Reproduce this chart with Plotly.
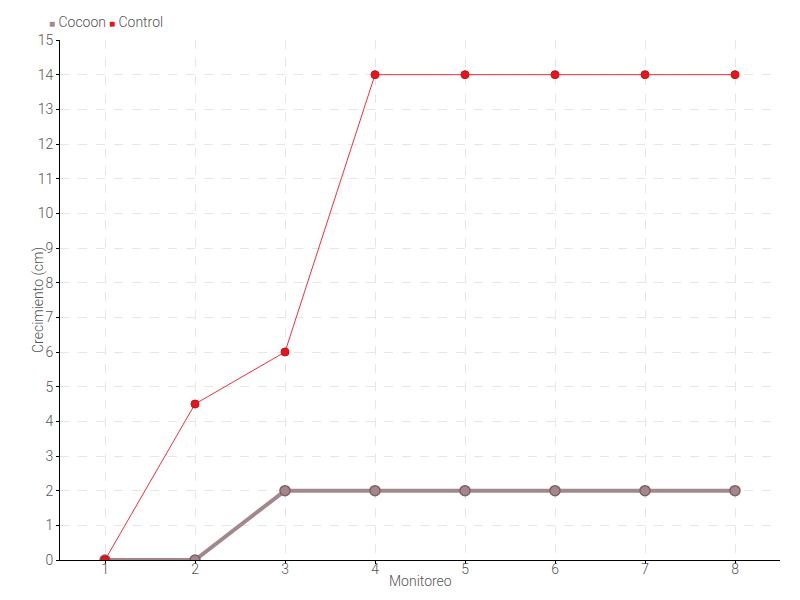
import plotly.graph_objects as go

monitoreo = [1, 2, 3, 4, 5, 6, 7, 8]
cocoon = [0, 0, 2, 2, 2, 2, 2, 2]
control = [0, 4.5, 6, 14, 14, 14, 14, 14]
series_names = ["Cocoon", "Control"]

font = "Roboto, sans-serif"
cocoon_color = "#a3878b"
control_color = "#e8141c"
txt = "#555555"

L, R, T, B = 60, 20, 40, 40
PW, PH = 800 - L - R, 600 - T - B


def px_x(p):
    return (p - L) / PW


def px_y(p):
    return (600 - B - p) / PH


fig = go.Figure()
fig.add_trace(go.Scatter(
    x=monitoreo, y=cocoon, name=series_names[0], mode="lines+markers", showlegend=False,
    line=dict(color=cocoon_color, width=4),
    marker=dict(size=10, color=cocoon_color, line=dict(color="#7d6165", width=1.5)),
))
fig.add_trace(go.Scatter(
    x=monitoreo, y=control, name=series_names[1], mode="lines+markers", showlegend=False,
    line=dict(color="#f0303a", width=1),
    marker=dict(size=8, color=control_color, line=dict(color="#c81018", width=1)),
))

legend_ann = []
for name, col, xpix in [(series_names[0], cocoon_color, 47), (series_names[1], control_color, 107)]:
    legend_ann.append(dict(
        text=f"<span style='color:{col};font-size:10px'>■</span> {name}",
        xref="paper", yref="paper", x=px_x(xpix), y=px_y(22),
        xanchor="left", yanchor="middle", showarrow=False,
        font=dict(size=14, color=txt, family=font, weight=300),
    ))

fig.update_layout(
    width=800, height=600,
    margin=dict(l=L, r=R, t=T, b=B, autoexpand=False),
    paper_bgcolor="white", plot_bgcolor="white",
    font=dict(family=font, size=14, color=txt, weight=300),
    showlegend=False,
    xaxis=dict(
        range=[0.5, 8.5], tickvals=monitoreo, showgrid=True, automargin=False,
        gridcolor="#e6e6e6", griddash="dash", zeroline=False,
        showline=True, linecolor="black", linewidth=1,
        ticks="outside", ticklen=3, tickcolor="black", ticklabelstandoff=-7,
    ),
    yaxis=dict(
        range=[0, 15], dtick=1, showgrid=True, automargin=False,
        gridcolor="#e6e6e6", griddash="dash", zeroline=False,
        showline=True, linecolor="black", linewidth=1,
        ticks="outside", ticklen=3, tickcolor="black",
    ),
    annotations=legend_ann + [
        dict(text="Monitoreo", xref="paper", yref="paper", x=px_x(420), y=px_y(581),
             xanchor="center", yanchor="middle", showarrow=False,
             font=dict(size=14, color=txt, family=font, weight=300)),
        dict(text="Crecimiento (cm)", xref="paper", yref="paper", x=px_x(38), y=px_y(300),
             xanchor="center", yanchor="middle", showarrow=False, textangle=-90,
             font=dict(size=14, color=txt, family=font, weight=300)),
    ],
)

fig.write_html("out.html", config={"displayModeBar": False},
               post_script="document.body.style.margin='0';document.body.style.padding='0';")
